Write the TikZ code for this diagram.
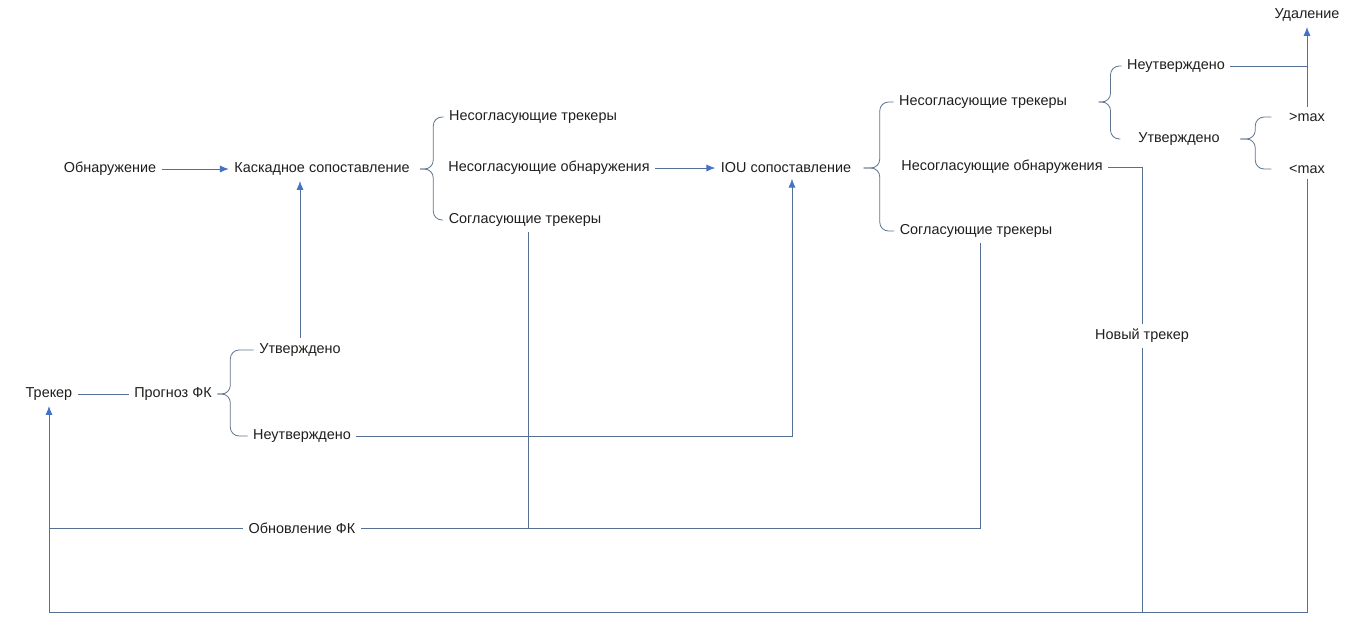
\documentclass[tikz,border=0pt]{standalone}
\usepackage{fontspec}
\setmainfont{Liberation Sans}
\usetikzlibrary{arrows.meta}

\definecolor{linec}{RGB}{84,112,146}
\definecolor{arrc}{RGB}{68,114,196}
\definecolor{textc}{RGB}{30,30,30}

\begin{document}
\begin{tikzpicture}[x=0.02cm,y=-0.02cm,
	>={Latex[length=5pt,width=4pt,color=arrc]},
	every node/.style={text=textc,font=\fontsize{8.2}{10}\selectfont,inner sep=3pt},
	conn/.style={draw=linec,line width=0.45pt},
	brace/.style={draw=linec!80!gray,line width=0.45pt,rounded corners=5pt}]

\useasboundingbox (0,0) rectangle (1361,637);

% upper row
\node (obn)   at (110,169) {Обнаружение};
\node (kask)  at (322,169) {Каскадное сопоставление};
\node (nt1)   at (533,117) {Несогласующие трекеры};
\node (no1)   at (549,168) {Несогласующие обнаружения};
\node (st1)   at (525,220) {Согласующие трекеры};
\node (iou)   at (786,168) {IOU сопоставление};
\node (nt2)   at (983,102) {Несогласующие трекеры};
\node (no2)   at (1002,167) {Несогласующие обнаружения};
\node (st2)   at (976,231) {Согласующие трекеры};
\node (neut2) at (1176,66)  {Неутверждено};
\node (utv2)  at (1179,139) {Утверждено};
\node (gtmax) at (1307,117) {>max};
\node (ltmax) at (1307,169) {<max};
\node (udal)  at (1307,15)  {Удаление};
\node (novy)  at (1142,336) {Новый трекер};

% lower rows
\node (treker) at (49,394)  {Трекер};
\node (prog)   at (173,394) {Прогноз ФК};
\node (utv1)   at (300,350) {Утверждено};
\node (neut1)  at (302,436) {Неутверждено};
\node (obnov)  at (302,528) {Обновление ФК};

\coordinate (niz) at (0,612);

% braces
\draw[brace] (kask.east) ++(5,0) -- ++(13,0) |- (nt1.west);
\draw[brace] (kask.east) ++(5,0) -- ++(13,0) |- (st1.west);
\draw[brace] (iou.east) ++(7,0) -- ++(16,0) |- (nt2.west);
\draw[brace] (iou.east) ++(7,0) -- ++(16,0) |- (st2.west);
\draw[brace] (nt2.east) ++(26,0) -- ++(12,0) |- (neut2.west);
\draw[brace,shorten >=7pt] (nt2.east) ++(26,0) -- ++(12,0) |- (utv2.west);
\draw[brace,shorten >=7pt] (utv2.east) ++(15,0) -- ++(15,0) |- (gtmax.west);
\draw[brace,shorten >=7pt] (utv2.east) ++(15,0) -- ++(15,0) |- (ltmax.west);
\draw[brace] (prog.east) -- ++(13,0) |- (utv1.west);
\draw[brace] (prog.east) -- ++(13,0) |- (neut1.west);

% connectors
\draw[conn,->] (obn) -- (kask);
\draw[conn,->] (no1) -- (iou);
\draw[conn] (treker) -- (prog);
\draw[conn,->] (utv1.north) -- (utv1.north |- kask.south);
\draw[conn,->] (neut1.east) -| ([xshift=3.4pt]iou.south);
\draw[conn,->] (gtmax.north) -- (udal.south);
\draw[conn] (neut2.east) -- (neut2.east -| gtmax.north);
\draw[conn] (no2.east) -| (novy.north);
\draw[conn] (novy.south) -- (novy.south |- niz);
\draw[conn] ([xshift=1.7pt]st1.south) -- ([xshift=1.7pt]st1.south |- obnov);
\draw[conn] ([xshift=2.3pt]st2.south) |- (obnov.east);
\draw[conn] (obnov.west) -- (obnov.west -| treker);
\draw[conn,->] (ltmax.south) -- (ltmax.south |- niz) -| (treker.south);

\end{tikzpicture}
\end{document}
